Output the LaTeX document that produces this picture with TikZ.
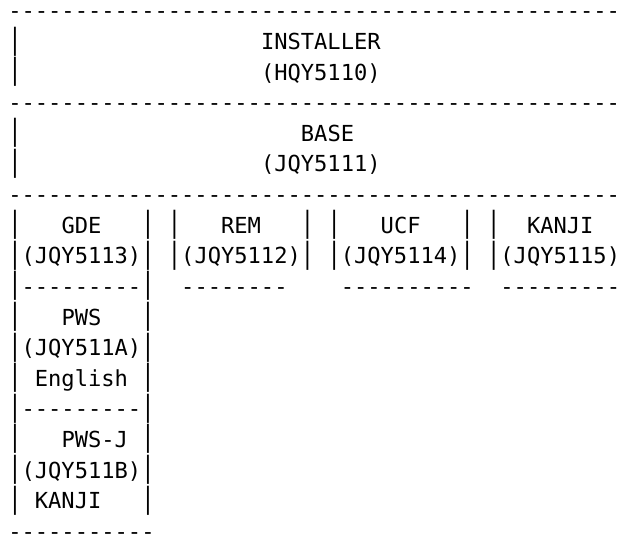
\documentclass[tikz,border=0pt]{standalone}
\usepackage{fontspec}
\usepackage{graphicx}
\setmonofont{DejaVu Sans Mono}
\newcommand\vbar{\raisebox{0.02em}{\scalebox{1}[1.32]{|}}}
\tikzset{
  txt/.style={anchor=base west, inner sep=0pt, outer sep=0pt,
    font=\ttfamily\fontsize{22.091pt}{30.6pt}\selectfont, text=black}
}
\begin{document}
\begin{tikzpicture}[x=13.3pt,y=-30.6pt]
\useasboundingbox[fill=white] (-8.3pt,19pt) rectangle (612.7pt,-521pt);
% row 0
\node[txt] (top) at (0,0) {----------------------------------------------};
\node[txt] (b1) at (0,1) {\vbar};
\node[txt] (installer) at (19,1) {INSTALLER};
\node[txt] (b2) at (0,2) {\vbar};
\node[txt] (hqy) at (19,2) {(HQY5110)};
\node[txt] (sep1) at (0,3) {----------------------------------------------};
\node[txt] (b4) at (0,4) {\vbar};
\node[txt] (base) at (22,4) {BASE};
\node[txt] (b5) at (0,5) {\vbar};
\node[txt] (jqy5111) at (19,5) {(JQY5111)};
\node[txt] (sep2) at (0,6) {----------------------------------------------};
% row 7
\node[txt] (b7a) at (0,7) {\vbar};
\node[txt] (gde) at (4,7) {GDE};
\node[txt] (b7b) at (10,7) {\vbar};
\node[txt] (b7c) at (12,7) {\vbar};
\node[txt] (rem) at (16,7) {REM};
\node[txt] (b7d) at (22,7) {\vbar};
\node[txt] (b7e) at (24,7) {\vbar};
\node[txt] (ucf) at (28,7) {UCF};
\node[txt] (b7f) at (34,7) {\vbar};
\node[txt] (b7g) at (36,7) {\vbar};
\node[txt] (kanji) at (39,7) {KANJI};
% row 8
\node[txt] (jqy5113) at (0,8) {\vbar(JQY5113)\vbar};
\node[txt] (jqy5112) at (12,8) {\vbar(JQY5112)\vbar};
\node[txt] (jqy5114) at (24,8) {\vbar(JQY5114)\vbar};
\node[txt] (jqy5115) at (36,8) {\vbar(JQY5115)};
% row 9
\node[txt] (gdebot) at (0,9) {\vbar---------\vbar};
\node[txt] (rembot) at (13,9) {--------};
\node[txt] (ucfbot) at (25,9) {----------};
\node[txt] (kanjibot) at (37,9) {---------};
% PWS box
\node[txt] (b10a) at (0,10) {\vbar};
\node[txt] (pws) at (4,10) {PWS};
\node[txt] (b10b) at (10,10) {\vbar};
\node[txt] (jqy511a) at (0,11) {\vbar(JQY511A)\vbar};
\node[txt] (b12a) at (0,12) {\vbar};
\node[txt] (english) at (2,12) {English};
\node[txt] (b12b) at (10,12) {\vbar};
\node[txt] (pwsbot) at (0,13) {\vbar---------\vbar};
% PWS-J box
\node[txt] (b14a) at (0,14) {\vbar};
\node[txt] (pwsj) at (4,14) {PWS-J};
\node[txt] (b14b) at (10,14) {\vbar};
\node[txt] (jqy511b) at (0,15) {\vbar(JQY511B)\vbar};
\node[txt] (b16a) at (0,16) {\vbar};
\node[txt] (kanjij) at (2,16) {KANJI};
\node[txt] (b16b) at (10,16) {\vbar};
\node[txt, text depth=0pt] (bottom) at (0,17) {-----------};
\end{tikzpicture}
\end{document}
